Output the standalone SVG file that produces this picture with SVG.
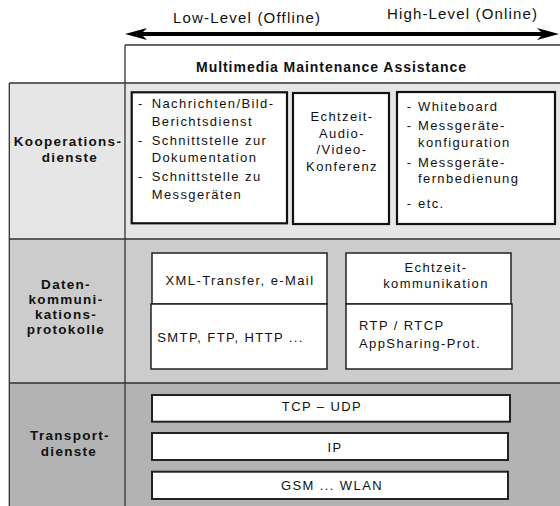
<svg xmlns="http://www.w3.org/2000/svg" width="560" height="506" viewBox="0 0 560 506">
  <style>
    text { font-family: "Liberation Sans", Arial, Helvetica, sans-serif; fill: #111; }
    .t { font-size: 13px; letter-spacing: 1.4px; }
    .b { font-size: 13.5px; font-weight: bold; letter-spacing: 1.3px; }
    .h { font-size: 15px; }
    .mid { text-anchor: middle; }
    .sep { stroke: #333; stroke-width: 1.3; fill: none; }
    .box { fill: #fff; stroke: #111; stroke-width: 2.2; }
    .pbox { fill: #fff; stroke: #222; stroke-width: 1.5; }
    .tbox { fill: #fff; stroke: #222; stroke-width: 2; }
  </style>

  <rect x="0" y="0" width="560" height="506" fill="#fff"/>

  <!-- layer bands -->
  <g id="bands">
    <rect x="9.3" y="83" width="551" height="156" fill="#e6e6e6"/>
    <rect x="9.3" y="239" width="551" height="144" fill="#cccccc"/>
    <rect x="9.3" y="383" width="551" height="123" fill="#b3b3b3"/>
    <path class="sep" d="M9.3 83 V506 M125 45 V506 M125 45 H560 M9.3 83 H560 M9.3 239 H560 M9.3 383 H560"/>
  </g>

  <!-- offline / online scale -->
  <g id="scale">
    <polygon points="125,34 147,28 143,32 541,32 537,28 559,34 537,40 541,36 143,36 147,40" fill="#000"/>
    <text class="h" x="173" y="23" textLength="147" lengthAdjust="spacing">Low-Level (Offline)</text>
    <text class="h" x="387" y="19" textLength="150" lengthAdjust="spacing">High-Level (Online)</text>
  </g>

  <g id="header">
    <text x="196" y="72" font-size="14" font-weight="bold" textLength="270" lengthAdjust="spacing">Multimedia Maintenance Assistance</text>
  </g>

  <!-- row labels -->
  <g id="label-kooperation">
    <text class="b mid" x="68" y="146">Kooperations-</text>
    <text class="b mid" x="70" y="162">dienste</text>
  </g>
  <g id="label-daten">
    <text class="b mid" x="66" y="289">Daten-</text>
    <text class="b mid" x="66" y="304">kommuni-</text>
    <text class="b mid" x="66" y="319">kations-</text>
    <text class="b mid" x="66" y="334">protokolle</text>
  </g>
  <g id="label-transport">
    <text class="b mid" x="70" y="440">Transport-</text>
    <text class="b mid" x="69" y="456">dienste</text>
  </g>

  <!-- cooperation services -->
  <g id="offline-services">
    <rect class="box" x="131.7" y="92.3" width="155.3" height="131"/>
    <text class="t" x="138" y="108">-</text><text class="t" x="151.7" y="108">Nachrichten/Bild-</text>
    <text class="t" x="151.7" y="126">Berichtsdienst</text>
    <text class="t" x="138" y="145">-</text><text class="t" x="151.7" y="145">Schnittstelle zur</text>
    <text class="t" x="151.7" y="162">Dokumentation</text>
    <text class="t" x="138" y="181">-</text><text class="t" x="151.7" y="181">Schnittstelle zu</text>
    <text class="t" x="151.7" y="199">Messgeräten</text>
  </g>
  <g id="conference">
    <rect class="box" x="293" y="93" width="96" height="131"/>
    <text class="t mid" x="342" y="121">Echtzeit-</text>
    <text class="t mid" x="342" y="138">Audio-</text>
    <text class="t mid" x="342" y="154">/Video-</text>
    <text class="t mid" x="342" y="171">Konferenz</text>
  </g>
  <g id="online-services">
    <rect class="box" x="397" y="92" width="158" height="132"/>
    <text class="t" x="406.7" y="111">-</text><text class="t" x="418" y="111">Whiteboard</text>
    <text class="t" x="406.7" y="130">-</text><text class="t" x="418" y="130">Messgeräte-</text>
    <text class="t" x="418" y="147">konfiguration</text>
    <text class="t" x="406.7" y="167">-</text><text class="t" x="418" y="167">Messgeräte-</text>
    <text class="t" x="418" y="183">fernbedienung</text>
    <text class="t" x="406.7" y="208">-</text><text class="t" x="418" y="208">etc.</text>
  </g>

  <!-- data communication protocols -->
  <g id="xml-transfer">
    <rect class="pbox" x="152" y="253" width="175" height="51"/>
    <text class="t mid" x="240" y="285">XML-Transfer, e-Mail</text>
  </g>
  <g id="smtp">
    <rect class="pbox" x="151" y="304" width="176" height="65"/>
    <text class="t" x="157.3" y="342">SMTP, FTP, HTTP ...</text>
  </g>
  <g id="realtime-comm">
    <rect class="pbox" x="346" y="253" width="165" height="51"/>
    <text class="t mid" x="436" y="272">Echtzeit-</text>
    <text class="t mid" x="436" y="288">kommunikation</text>
  </g>
  <g id="rtp">
    <rect class="pbox" x="346" y="304" width="166" height="65"/>
    <text class="t" x="359" y="330">RTP / RTCP</text>
    <text class="t" x="359" y="348">AppSharing-Prot.</text>
  </g>

  <!-- transport services -->
  <g id="tcp-udp">
    <rect class="tbox" x="152" y="395" width="358" height="26.7"/>
    <text class="t mid" x="322" y="411">TCP – UDP</text>
  </g>
  <g id="ip">
    <rect class="tbox" x="152" y="433" width="356" height="27"/>
    <text class="t mid" x="335" y="452">IP</text>
  </g>
  <g id="gsm-wlan">
    <rect class="tbox" x="152" y="471.7" width="356" height="27.3"/>
    <text class="t mid" x="332" y="490">GSM  ... WLAN</text>
  </g>
</svg>
